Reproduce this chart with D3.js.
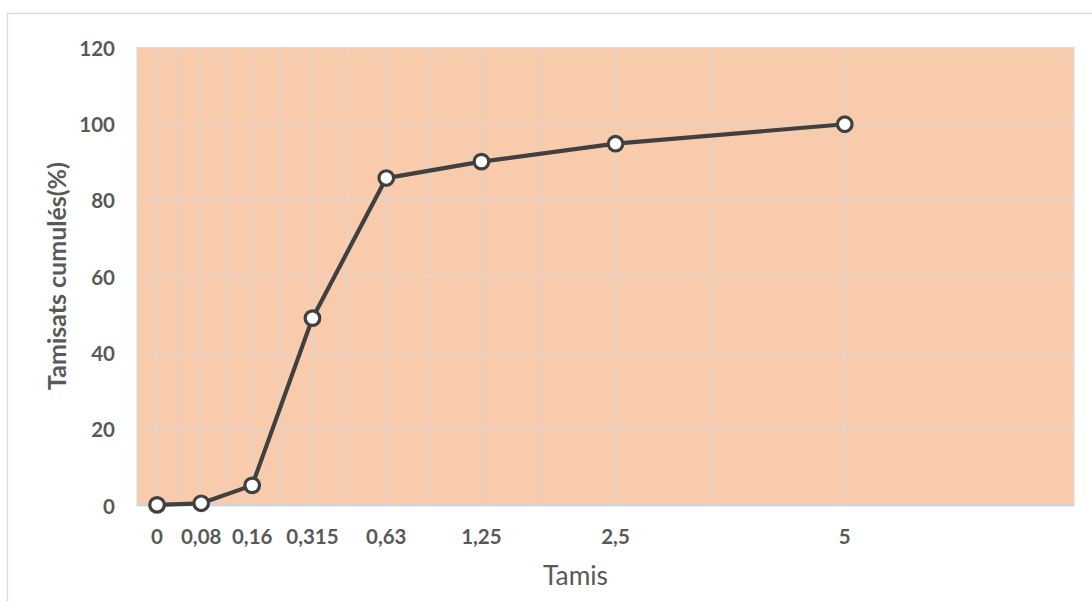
<!DOCTYPE html>
<html>
<head>
<meta charset="utf-8">
<script src="https://cdn.jsdelivr.net/npm/d3@7/dist/d3.min.js"></script>
<style>
  html, body { margin: 0; padding: 0; background: #ffffff; }
  svg { display: block; }
</style>
</head>
<body>
<svg id="chart" width="1092" height="601"></svg>
<script>
// ---- data ----
const categories = ["0", "0,08", "0,16", "0,315", "0,63", "1,25", "2,5", "5"];
const values = [0.2, 0.6, 5.3, 49.1, 85.8, 90.1, 94.8, 99.9];
const yTicks = [0, 20, 40, 60, 80, 100, 120];
const xTitle = "Tamis";
const yTitle = "Tamisats cumulés(%)";

// ---- layout ----
const W = 1092, H = 601;
const plot = { left: 137, right: 1074, top: 47.5, bottom: 505.6 };
const FONT = "Lato, 'Open Sans', sans-serif";
const textColor = "#595959";

const svg = d3.select("#chart");

// outer chart border
svg.append("rect")
  .attr("x", 7.5).attr("y", 13.5)
  .attr("width", W + 10).attr("height", H + 10)
  .attr("fill", "#ffffff")
  .attr("stroke", "#d9d9d9").attr("stroke-width", 1.3);

// slots: gridlines between / on categories (2n+1 lines incl. edges)
const nSlots = categories.length * 2 + 1;
const xLog = d3.scaleLog().domain([nSlots, 1]).range([plot.left, plot.right]);
const xSlot = i => xLog(nSlots - i);
const xCat = k => xSlot(2 * k + 1);

const y = d3.scaleLinear().domain([0, 120]).range([plot.bottom, plot.top]);

// plot background
svg.append("rect")
  .attr("x", plot.left).attr("y", plot.top)
  .attr("width", plot.right - plot.left).attr("height", plot.bottom - plot.top)
  .attr("fill", "#f8cbad")
  .attr("stroke", "#dcdcdc").attr("stroke-width", 1.2);

// vertical gridlines
const slotIdx = d3.range(1, nSlots - 1);
svg.append("g").selectAll("line").data(slotIdx).join("line")
  .attr("x1", d => xSlot(d)).attr("x2", d => xSlot(d))
  .attr("y1", plot.top).attr("y2", plot.bottom)
  .attr("stroke", "#e3d3c9").attr("stroke-width", 1.4);

// horizontal gridlines
svg.append("g").selectAll("line").data(yTicks.filter(t => t > 0 && t < 120)).join("line")
  .attr("x1", plot.left).attr("x2", plot.right)
  .attr("y1", d => y(d)).attr("y2", d => y(d))
  .attr("stroke", "#e3d3c9").attr("stroke-width", 1.4);

// x axis line
svg.append("line")
  .attr("x1", plot.left).attr("x2", plot.right)
  .attr("y1", plot.bottom).attr("y2", plot.bottom)
  .attr("stroke", "#b7d6f0").attr("stroke-width", 1.5);

// y tick labels
svg.append("g").selectAll("text").data(yTicks).join("text")
  .attr("x", 115).attr("y", d => y(d))
  .attr("text-anchor", "end").attr("dominant-baseline", "central")
  .attr("font-family", FONT).attr("font-weight", "bold").attr("font-size", 20.5)
  .attr("fill", textColor)
  .text(d => d);

// x tick labels
svg.append("g").selectAll("text").data(categories).join("text")
  .attr("x", (d, i) => xCat(i)).attr("y", 544)
  .attr("text-anchor", "middle")
  .attr("font-family", FONT).attr("font-weight", "bold").attr("font-size", 20.5)
  .attr("fill", textColor)
  .text(d => d);

// line
const line = d3.line().x((d, i) => xCat(i)).y(d => y(d));
svg.append("path").datum(values)
  .attr("d", line)
  .attr("fill", "none").attr("stroke", "#404040").attr("stroke-width", 4.2)
  .attr("stroke-linejoin", "round");

// markers
svg.append("g").selectAll("circle").data(values).join("circle")
  .attr("cx", (d, i) => xCat(i)).attr("cy", d => y(d))
  .attr("r", 7.3)
  .attr("fill", "#ffffff").attr("stroke", "#404040").attr("stroke-width", 3.2);

// axis titles
function fitText(sel, target) {
  const len = sel.node().getComputedTextLength();
  const fs = parseFloat(sel.attr("font-size"));
  if (len > 0) sel.attr("font-size", fs * target / len);
}
const xt = svg.append("text")
  .attr("x", 575.5).attr("y", 585)
  .attr("text-anchor", "middle")
  .attr("font-family", FONT).attr("font-size", 24)
  .attr("fill", textColor)
  .text(xTitle);
fitText(xt, 65);

const yt = svg.append("text")
  .attr("transform", "translate(66,276) rotate(-90)")
  .attr("text-anchor", "middle")
  .attr("font-family", FONT).attr("font-weight", "bold").attr("font-size", 22)
  .attr("fill", textColor)
  .text(yTitle);
fitText(yt, 228);
</script>
</body>
</html>
